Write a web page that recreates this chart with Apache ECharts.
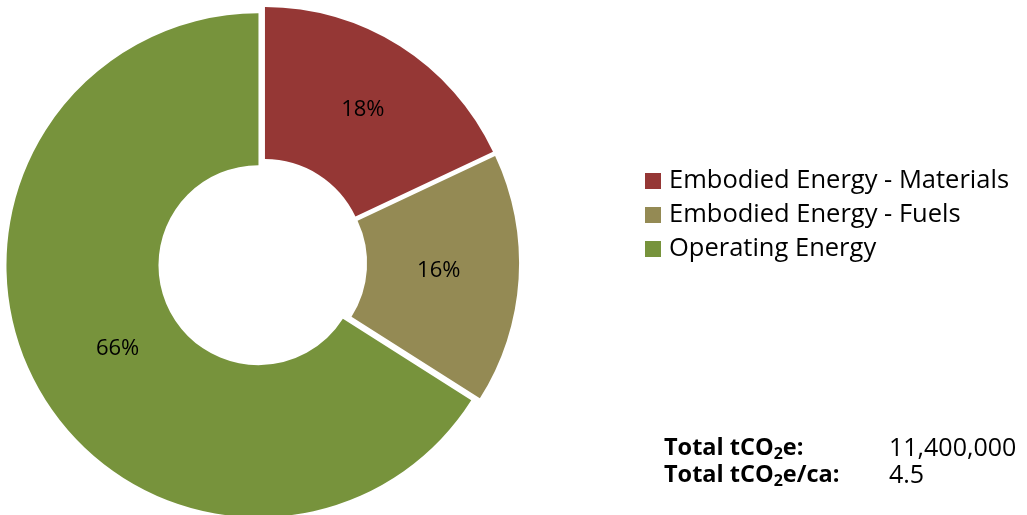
<!DOCTYPE html>
<html>
<head>
<meta charset="utf-8">
<script src="https://cdn.jsdelivr.net/npm/echarts@6/dist/echarts.min.js"></script>
<style>
  html, body { margin: 0; padding: 0; background: #ffffff; }
  #chart { width: 1027px; height: 515px; }
</style>
</head>
<body>
<div id="chart"></div>
<script>
// Share of emissions by source (percent)
const categories = ['Embodied Energy - Materials', 'Embodied Energy - Fuels', 'Operating Energy'];
const shares = [18, 16, 66];
const sliceColors = ['#953735', '#948A54', '#77933C'];

// Summary figures printed under the legend
const totalLabels = ['Total tCO2e:', 'Total tCO2e/ca:'];
const totalValues = ['11,400,000', '4.5'];

// small nudges for the in-slice percentage labels
const labelNudges = [[2, 2], [-7, -4], [16, -3]];

const FONT = '"Open Sans", "Liberation Sans", sans-serif';

// turn "CO2" into rich text with a subscript 2
function richLabel(s) {
  const parts = s.split('CO2');
  return parts.map(p => p ? '{b|' + p + '}' : '').join('{b|CO}{sub|2}');
}

const totalsGraphics = [];
totalLabels.forEach((lab, i) => {
  const top = 436 + i * 27;
  totalsGraphics.push({
    type: 'text', x: 664, y: top,
    style: {
      text: richLabel(lab),
      rich: {
        b: { fontFamily: FONT, fontSize: 23.5, fontWeight: 'bold', color: '#000', lineHeight: 26, verticalAlign: 'top' },
        sub: { fontFamily: FONT, fontSize: 16, fontWeight: 'bold', color: '#000', lineHeight: 12, verticalAlign: 'bottom' }
      }
    }
  });
  totalsGraphics.push({
    type: 'text', x: 889, y: top,
    style: { text: totalValues[i], fontFamily: FONT, fontSize: 25, color: '#000', lineHeight: 26, verticalAlign: 'top' }
  });
});

const chart = echarts.init(document.getElementById('chart'), null, { renderer: 'canvas' });
chart.setOption({
  animation: false,
  backgroundColor: '#ffffff',
  legend: {
    orient: 'vertical',
    left: 640,
    top: 163,
    icon: 'rect',
    itemWidth: 16,
    itemHeight: 16,
    itemGap: 8,
    selectedMode: false,
    textStyle: { fontFamily: FONT, fontSize: 25.5, color: '#000', lineHeight: 26, padding: [0, 0, 0, 3] },
    data: categories
  },
  series: [{
    type: 'pie',
    center: [262.5, 263],
    radius: [100, 252],
    startAngle: 90,
    clockwise: true,
    selectedMode: 'multiple',
    selectedOffset: 4.6,
    avoidLabelOverlap: false,
    label: {
      show: true,
      position: 'inside',
      formatter: '{d}%',
      fontFamily: FONT,
      fontSize: 22,
      color: '#000'
    },
    labelLayout: function (params) {
      const n = labelNudges[params.dataIndex];
      return { dx: n[0], dy: n[1] };
    },
    labelLine: { show: false },
    emphasis: { disabled: true },
    itemStyle: { borderWidth: 0 },
    data: categories.map((name, i) => ({
      name: name,
      value: shares[i],
      selected: true,
      itemStyle: { color: sliceColors[i] },
      select: { itemStyle: { color: sliceColors[i], borderWidth: 0 } }
    }))
  }],
  graphic: totalsGraphics
});
</script>
</body>
</html>
